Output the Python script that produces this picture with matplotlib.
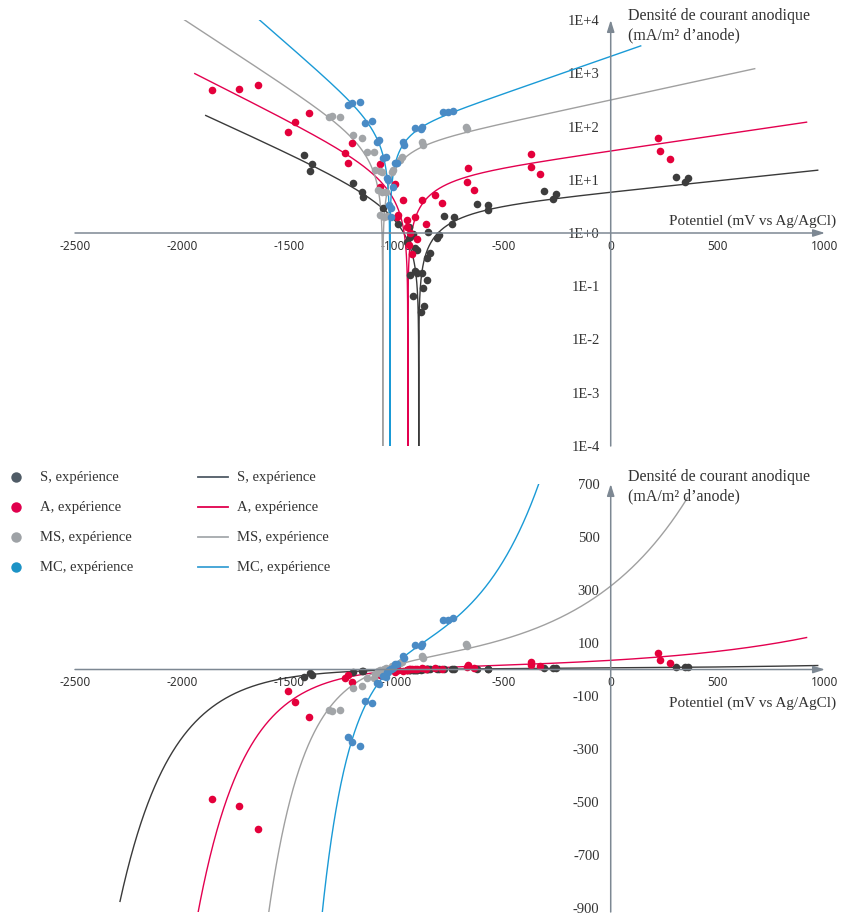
import numpy as np
import matplotlib
matplotlib.use('Agg')
import matplotlib.pyplot as plt

# experimental points: potential (mV vs Ag/AgCl) and current density (mA/m2 of anode)
S_E = [-1433, -1395, -1405, -1204, -1162, -1157, -1064, -994, -943, -924, -938, -952, -915, -905,
       -938, -915, -905, -882, -859, -877, -924, -873, -887, -845, -859, -854, -812, -803,
       -779, -733, -742, -625, -574, -574, -313, -271, -257, 303, 345, 359]
S_i = [-29, -20, -14.6, -8.7, -5.9, -4.8, -2.9, -1.5, -1.3, -0.96, -0.84, -0.68, -0.52, -0.48,
       -0.16, -0.19, -0.18, 0.18, 0.13, 0.093, -0.066, 0.043, 0.033, 0.42, 0.34, 1.04, 0.81, 0.92,
       2.1, 2.0, 1.5, 3.5, 3.4, 2.7, 6.2, 4.4, 5.4, 11.3, 9.1, 10.8]

A_E = [-1862, -1736, -1647, -1507, -1475, -1409, -1209, -1241, -1227, -1078, -1078, -1008, -994,
       -999, -971, -952, -952, -938, -915, -882, -821, -863, -789, -667, -672, -639, -373, -373,
       -331, 219, 229, 275, -943, -929, -905]
A_i = [-490, -515, -600, -80, -122, -178, -49, -32, -21, -20, -7.3, -8.3, -2.2,
       -2.0, -4.2, -1.75, -1.3, 1.0, 2.0, 4.2, 5.2, 1.5, 3.7, 16.6, 9.1, 6.4, 30, 17,
       12.8, 61, 35, 24.5, 0.6, 0.4, 0.77]

MS_E = [-1316, -1302, -1265, -1204, -1162, -1139, -1106, -1101, -1078, -1069, -1087, -1069, -1050,
        -1078, -1060, -1045, -1022, -1017, -985, -975, -882, -877, -677, -672]
MS_i = [-151, -158, -151, -69, -61, -33, -33, -15.2, -14.6, -14, -6.4, -5.9, 5.9,
        -2.2, 2.0, 2.1, 14, 15, 23, 27, 51, 45, 98, 90]

MC_E = [-1227, -1209, -1171, -1148, -1115, -1092, -1083, -1064, -1050, -1045, -1038, -1036, -1027,
        -1024, -1017, -1008, -999, -971, -966, -915, -887, -882, -784, -761, -737]
MC_i = [-253, -275, -288, -117, -127, -51, -56, -26, -27, -11, -10, -3.4, 2.9,
        2.0, 7.3, 21, 21, 51, 45, 94, 90, 98, 187, 187, 195]

# fitted Butler-Volmer parameters: Ecorr (mV), i0 (mA/m2), Tafel slopes (mV/decade)
Ecorr = [-896, -947, -1064, -1031]
i0 = [2.45, 9.6, 37, 74]
ba = [2356, 1693, 1144, 712]
bc = [546, 494, 380, 285]
# potential span of each fitted curve in the log panel and in the linear panel
span_log = [(-1890, 966), (-1941, 914), (-2000, 672), (-2000, 140)]
span_lin = [(-2290, 966), (-2000, 914), (-2000, 359), (-2000, 800)]

labels = ['S, expérience', 'A, expérience', 'MS, expérience', 'MC, expérience']
pt_col = ['#3d3d3d', '#e4003b', '#a2a5a8', '#4a8bc5']
ln_col = ['#3a3a3a', '#e3004f', '#a0a0a0', '#1a9ad6']
lg_dot = ['#4f5b66', '#e0004d', '#9ea2a6', '#1c93c6']
lg_ln = ['#4f5b66', '#e0004d', '#a5a9ad', '#3aa0d4']
points = [(S_E, S_i), (A_E, A_i), (MS_E, MS_i), (MC_E, MC_i)]

xticks = [-2500, -2000, -1500, -1000, -500, 0, 500, 1000]
log_ticks = [1e-4, 1e-3, 1e-2, 1e-1, 1, 1e1, 1e2, 1e3, 1e4]
log_labels = ['1E-4', '1E-3', '1E-2', '1E-1', '1E+0', '1E+1', '1E+2', '1E+3', '1E+4']
lin_ticks = [700, 500, 300, 100, -100, -300, -500, -700, -900]

SERIF = 'Liberation Serif'
SANS = 'Noto Sans'
txt = '#333333'
axc = '#7d8893'


def bv(E, k):
    eta = E - Ecorr[k]
    return i0[k] * (10 ** (eta / ba[k]) - 10 ** (-eta / bc[k]))


def egrid(k, lo, hi):
    off = np.geomspace(1e-7, 40, 120)
    E = np.concatenate([np.linspace(lo, hi, 2000), Ecorr[k] - off, Ecorr[k] + off, [Ecorr[k]]])
    E = np.sort(E)
    return E[(E >= lo) & (E <= hi)]


W, H = 842, 916
fig = plt.figure(figsize=(W / 100, H / 100), dpi=100)
ax1 = fig.add_axes([75 / W, 470 / H, 750 / W, 426 / H])
ax2 = fig.add_axes([75 / W, 4 / H, 750 / W, 428 / H])

ax1.set_yscale('log')
ax1.set_xlim(-2500, 1000); ax1.set_ylim(1e-4, 1e4)
ax2.set_xlim(-2500, 1000); ax2.set_ylim(-915, 700)

for k in range(4):
    E = egrid(k, *span_log[k])
    ax1.plot(E, np.maximum(np.abs(bv(E, k)), 1e-9), color=ln_col[k], lw=1.0, zorder=2)
    E = egrid(k, *span_lin[k])
    ax2.plot(E, bv(E, k), color=ln_col[k], lw=1.0, zorder=2)
    pe, pi = points[k]
    ax1.scatter(pe, np.abs(pi), s=30, color=pt_col[k], lw=0, zorder=3)
    ax2.scatter(pe, pi, s=30, color=pt_col[k], lw=0, zorder=3)

for ax, yc, ylo, yhi in [(ax1, 1, 1e-4, 1e4), (ax2, 0, -915, 700)]:
    for s in ax.spines.values():
        s.set_visible(False)
    ax.spines['left'].set_position(('data', 0))
    ax.spines['bottom'].set_position(('data', yc))
    ax.set_xticks(xticks)
    ax.set_xticklabels([str(v) for v in xticks], fontfamily=SANS, fontsize=8.5, color=txt)
    ax.tick_params(axis='x', length=0, pad=5)
    ax.tick_params(axis='y', length=0, pad=8)
    ax.minorticks_off()
    ax.annotate('', xy=(1000, yc), xytext=(-2500, yc), annotation_clip=False,
                arrowprops=dict(arrowstyle='-|>,head_length=0.7,head_width=0.22', color=axc,
                                lw=1.1, shrinkA=0, shrinkB=0))
    ax.annotate('', xy=(0, yhi), xytext=(0, ylo), annotation_clip=False,
                arrowprops=dict(arrowstyle='-|>,head_length=0.7,head_width=0.22', color=axc,
                                lw=1.1, shrinkA=0, shrinkB=0))

ax1.set_yticks(log_ticks)
ax1.set_yticklabels(log_labels, fontfamily=SERIF, fontsize=10.5, color=txt)
ax1.minorticks_off()
ax2.set_yticks(lin_ticks)
ax2.set_yticklabels([str(v) for v in lin_ticks], fontfamily=SERIF, fontsize=10.5, color=txt)

# overlay in pixel coordinates for titles and legend
ov = fig.add_axes([0, 0, 1, 1], zorder=5)
ov.set_xlim(0, W); ov.set_ylim(H, 0); ov.axis('off')
for y0 in (16, 477):
    ov.text(628, y0, 'Densité de courant anodique', ha='left', va='center',
            fontfamily=SERIF, fontsize=11.5, color=txt)
    ov.text(628, y0 + 19, '(mA/m\u00b2 d\u2019anode)', ha='left', va='center',
            fontfamily=SERIF, fontsize=11.5, color=txt)
ov.text(836, 221, 'Potentiel (mV vs Ag/AgCl)', ha='right', va='center',
        fontfamily=SERIF, fontsize=11, color=txt)
ov.text(836, 703, 'Potentiel (mV vs Ag/AgCl)', ha='right', va='center',
        fontfamily=SERIF, fontsize=11, color=txt)

for k in range(4):
    y = 477 + 30 * k
    ov.plot([16], [y], 'o', ms=7.5, color=lg_dot[k], mec='none')
    ov.text(40, y, labels[k], ha='left', va='center', fontfamily=SERIF, fontsize=10.5, color=txt)
    ov.plot([198, 228], [y, y], color=lg_ln[k], lw=1.3)
    ov.text(237, y, labels[k], ha='left', va='center', fontfamily=SERIF, fontsize=10.5, color=txt)

fig.savefig('out.png', dpi=100, facecolor='white')
